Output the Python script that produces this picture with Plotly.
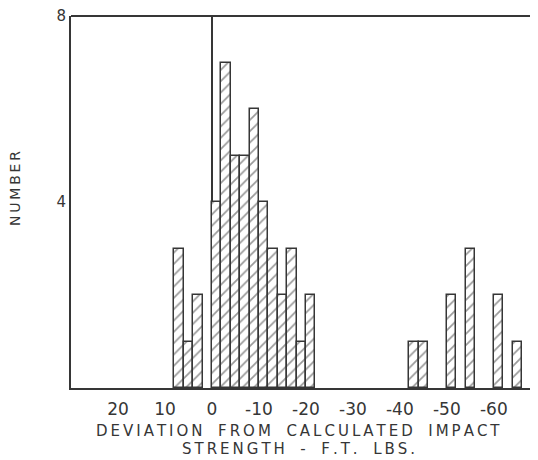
import plotly.graph_objects as go

# Data: histogram bins (2 ft-lb wide), centers and counts
bin_centers = [7, 5, 3, -1, -3, -5, -7, -9, -11, -13, -15, -17, -19, -21,
               -43, -45, -51, -55, -61, -65]
counts = [3, 1, 2, 4, 7, 5, 5, 6, 4, 3, 2, 3, 1, 2,
          1, 1, 2, 3, 2, 1]
bin_width = 2

x_tickvals = [20, 10, 0, -10, -20, -30, -40, -50, -60]
x_ticktext = ["20", "10", "0", "-10", "-20", "-30", "-40", "-50", "-60"]
y_tickvals = [4, 8]
y_ticktext = ["4", "8"]

x_title = ["DEVIATION FROM CALCULATED IMPACT", "STRENGTH - F.T. LBS."]
y_title = "NUMBER"

ink = "#363636"
font = "DejaVu Sans"

def spaced(s, sep="\u2009"):
    return sep.join(list(s)).replace(" ", "\u00a0\u00a0")

fig = go.Figure()
fig.add_trace(go.Bar(
    x=bin_centers, y=counts, width=bin_width,
    marker=dict(color="white",
                line=dict(color=ink, width=1.5),
                pattern=dict(shape="/", fgcolor=ink, bgcolor="white",
                             size=8, solidity=0.22)),
    showlegend=False,
))

# page has an 8px body margin: figure is offset by (8, 8)
fig.update_layout(
    width=530, height=452,
    margin=dict(l=63, r=0, t=8, b=72),
    paper_bgcolor="white", plot_bgcolor="white",
    font=dict(family=font, color=ink),
    bargap=0,
    xaxis=dict(
        range=[30, -69.4], tickvals=x_tickvals, ticktext=x_ticktext,
        automargin=False,
        showgrid=False, zeroline=True, zerolinecolor=ink, zerolinewidth=2,
        showline=True, linecolor=ink, linewidth=2, ticks="",
        ticklabelstandoff=5,
        tickfont=dict(size=17, family=font, color=ink),
    ),
    yaxis=dict(
        range=[0, 8], tickvals=y_tickvals, ticktext=y_ticktext,
        automargin=False, ticklabeloverflow="allow",
        showgrid=False, zeroline=False,
        showline=True, linecolor=ink, linewidth=2, ticks="",
        tickfont=dict(size=15, family=font, color=ink),
    ),
    shapes=[dict(type="line", xref="paper", yref="paper", x0=0, x1=1, y0=1, y1=1,
                 line=dict(color=ink, width=2))],
    annotations=[
        dict(text=spaced(x_title[0]), xref="paper", yref="paper", x=0.487, y=-0.1156,
             xanchor="center", yanchor="middle", showarrow=False,
             font=dict(size=15, family=font, color=ink)),
        dict(text=spaced(x_title[1]), xref="paper", yref="paper", x=0.487, y=-0.164,
             xanchor="center", yanchor="middle", showarrow=False,
             font=dict(size=15, family=font, color=ink)),
        dict(text=spaced(y_title), xref="paper", yref="paper", x=-0.12, y=0.5376,
             xanchor="center", yanchor="middle", showarrow=False, textangle=-90,
             font=dict(size=14, family=font, color=ink)),
    ],
)

fig.write_html("out.html")
